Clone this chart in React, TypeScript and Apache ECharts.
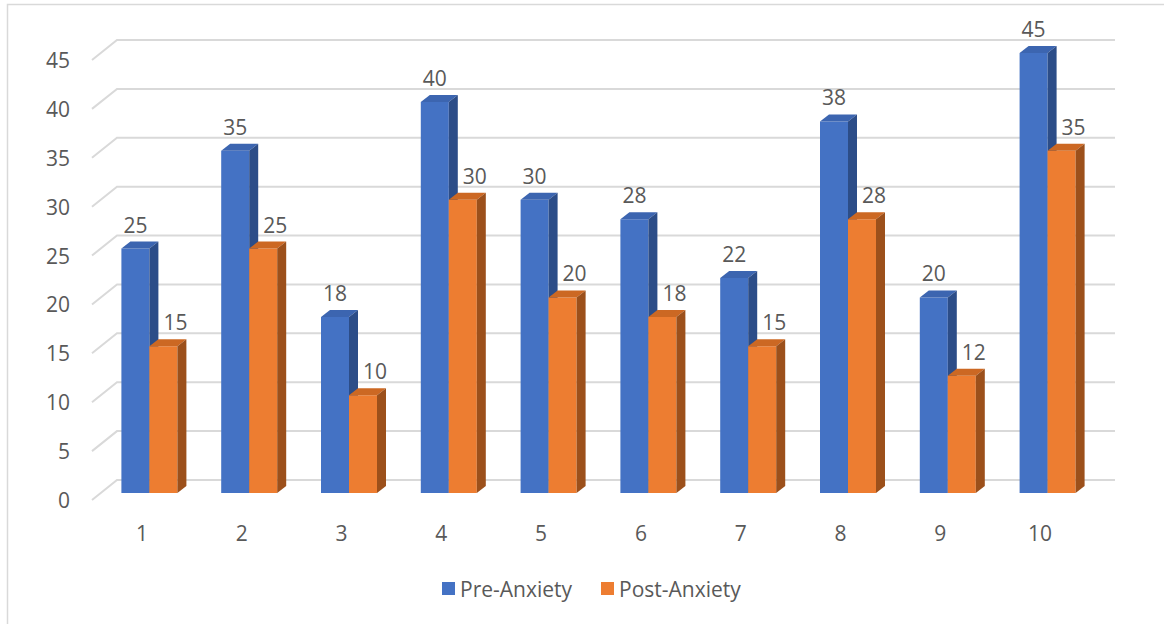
import React, { useEffect, useRef } from "react";
import * as echarts from "echarts";

const categories = ["1", "2", "3", "4", "5", "6", "7", "8", "9", "10"];
const preAnxiety = [25, 35, 18, 40, 30, 28, 22, 38, 20, 45];
const postAnxiety = [15, 25, 10, 30, 20, 18, 15, 28, 12, 35];
const yTicks = [0, 5, 10, 15, 20, 25, 30, 35, 40, 45];
const seriesNames = ["Pre-Anxiety", "Post-Anxiety"];

const FONT = "'Open Sans', 'Noto Sans', sans-serif";
const TEXT = "#595959";
const GRID_COLOR = "#d9d9d9";
// projection offsets
const WALL_DX = 25, WALL_DY = -20; // front edge -> back wall
const OX = 7.5, OY = -7; // front edge -> bar front plane
const DX = 9, DY = -7; // bar depth
const BW = 28;

const palettes = [
  { front: "#4472C4", top: "#3c65b0", side: "#2c4d88", shift: 0 },
  { front: "#ED7D31", top: "#cc6823", side: "#9c501b", shift: 12 },
];

function barRenderer(k: number) {
  const pal = palettes[k];
  return (params: any, api: any) => {
    const i = api.value(0);
    const v = api.value(1);
    const base = api.coord([i, 0]);
    const top = api.coord([i, v]);
    const cx = base[0] + OX;
    const left = k === 0 ? cx - BW : cx;
    const yb = base[1] + OY;
    const yt = top[1] + OY;
    return {
      type: "group",
      children: [
        {
          type: "rect",
          shape: { x: left, y: yt, width: BW, height: yb - yt },
          style: { fill: pal.front },
        },
        {
          type: "polygon",
          shape: {
            points: [
              [left, yt],
              [left + DX, yt + DY],
              [left + BW + DX, yt + DY],
              [left + BW, yt],
            ],
          },
          style: { fill: pal.top },
        },
        {
          type: "polygon",
          shape: {
            points: [
              [left + BW, yt],
              [left + BW + DX, yt + DY],
              [left + BW + DX, yb + DY],
              [left + BW, yb],
            ],
          },
          style: { fill: pal.side },
        },
        {
          type: "text",
          x: left + BW / 2 + pal.shift,
          y: yt - 24,
          style: {
            text: String(v),
            fill: TEXT,
            fontSize: 21,
            fontFamily: FONT,
            align: "center",
            verticalAlign: "middle",
          },
        },
      ],
    };
  };
}

export default function App() {
  const ref = useRef<HTMLDivElement>(null);
  useEffect(() => {
    if (!ref.current) return;
    const chart = echarts.init(ref.current, null, { renderer: "svg" });
    chart.setOption({
      animation: false,
      backgroundColor: "#ffffff",
      graphic: [
        {
          type: "rect",
          shape: { x: 7.5, y: 4.5, width: 1300, height: 800 },
          style: { fill: "none", stroke: GRID_COLOR, lineWidth: 1.5 },
          silent: true,
          z: -10,
        },
      ],
      grid: { left: 92, right: 74, top: 60, bottom: 124, containLabel: false },
      legend: {
        data: seriesNames,
        left: 437,
        top: 573,
        icon: "rect",
        itemWidth: 13,
        itemHeight: 13,
        itemGap: 29,
        textStyle: { color: TEXT, fontSize: 21, fontFamily: FONT },
      },
      xAxis: {
        type: "category",
        data: categories,
        axisLine: { show: false },
        axisTick: { show: false },
        axisLabel: { color: TEXT, fontSize: 21, fontFamily: FONT, margin: 22 },
      },
      yAxis: {
        type: "value",
        min: 0,
        max: 45,
        interval: 5,
        axisLine: { show: false },
        axisTick: { show: false },
        splitLine: { show: false },
        axisLabel: { color: TEXT, fontSize: 21, fontFamily: FONT, margin: 22 },
      },
      series: [
        {
          type: "custom",
          name: "grid",
          silent: true,
          z: 1,
          data: yTicks.map((v) => [0, v]),
          renderItem: (params: any, api: any) => {
            const cs = params.coordSys;
            const y = api.coord([0, api.value(1)])[1];
            const x0 = cs.x;
            return {
              type: "polyline",
              shape: {
                points: [
                  [x0, y],
                  [x0 + WALL_DX, y + WALL_DY],
                  [x0 + cs.width + WALL_DX, y + WALL_DY],
                ],
              },
              style: { fill: "none", stroke: GRID_COLOR, lineWidth: 2 },
            };
          },
        },
        {
          type: "custom",
          name: seriesNames[0],
          z: 2,
          itemStyle: { color: palettes[0].front },
          data: preAnxiety.map((v, i) => [i, v]),
          renderItem: barRenderer(0),
        },
        {
          type: "custom",
          name: seriesNames[1],
          z: 3,
          itemStyle: { color: palettes[1].front },
          data: postAnxiety.map((v, i) => [i, v]),
          renderItem: barRenderer(1),
        },
      ],
    });
    return () => chart.dispose();
  }, []);
  return (
    <div
      ref={ref}
      style={{ position: "fixed", left: 0, top: 0, width: 1164, height: 624 }}
    />
  );
}
